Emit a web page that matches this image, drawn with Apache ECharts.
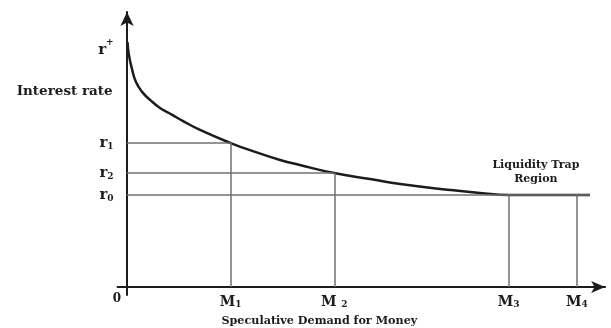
<!DOCTYPE html>
<html>
<head>
<meta charset="utf-8">
<script src="https://cdn.jsdelivr.net/npm/echarts@6/dist/echarts.min.js"></script>
<style>
  html, body { margin: 0; padding: 0; background: #fff; }
  #chart { width: 611px; height: 328px; }
</style>
</head>
<body>
<div id="chart"></div>
<script>
// Speculative demand for money (liquidity preference) curve
const curveMoney = [0.1, 0.4, 1.1, 1.9, 3.2, 4.9, 7.0, 9.6, 11.9, 15.5, 22, 27.2, 32.5, 36.7, 44, 51.6, 58, 68.6, 74.9, 81, 89.8, 98.3];
const curveRate  = [91.4, 86.6, 81.0, 76.5, 72.8, 69.8, 66.8, 64.2, 61.9, 58.6, 53.7, 50.4, 47.4, 45.5, 42.5, 40.3, 38.4, 36.2, 35.1, 34.3, 34.3, 34.3];

// Interest-rate levels: r+, r1, r2, r0
const rateNames  = ['r+', 'r1', 'r2', 'r0'];
const rateValues = [89.2, 53.7, 42.5, 34.3];
const rateAxisTitle = 'Interest rate';
const rateAxisTitleAt = 72.8;

// Money quantities: M1..M4
const moneyNames  = ['M1', 'M 2', 'M3', 'M4'];
const moneyValues = [22, 44, 81, 95.5];
const trapEnd = 98.3;

const INK = '#1c1c1c';
const GUIDE = '#707070';
const SERIF = '"DejaVu Serif", "Liberation Serif", serif';

const r1 = rateValues[1], r2 = rateValues[2], r0 = rateValues[3];
const M1 = moneyValues[0], M2 = moneyValues[1], M3 = moneyValues[2], M4 = moneyValues[3];

function splitSub(name) {
  // "r1" -> base "r", sub "1"; "M 2" -> base "M ", sub "2"
  return { base: name.slice(0, -1), sub: name.slice(-1) };
}

const chart = echarts.init(document.getElementById('chart'), null, { renderer: 'canvas' });

chart.setOption({
  backgroundColor: '#fff',
  animation: false,
  grid: { left: 117.6, top: 12, width: 487.5, height: 283, containLabel: false, outerBoundsMode: 'none' },
  xAxis: {
    type: 'value', min: -2, max: 101.5,
    splitLine: { show: false },
    axisTick: { show: false },
    axisLine: { onZero: true, lineStyle: { color: INK, width: 2 }, symbol: ['none', 'arrow'], symbolSize: [9, 14] },
    axisLabel: {
      customValues: [0].concat(moneyValues),
      margin: -2,
      fontFamily: SERIF, fontWeight: 'bold', color: INK,
      formatter: function (v) {
        if (v === 0) return '{o|0}';
        const i = moneyValues.indexOf(v);
        if (i < 0) return '';
        const p = splitSub(moneyNames[i]);
        return '{m|' + p.base + '}{s|' + p.sub + '}';
      },
      rich: {
        o: { fontFamily: SERIF, fontWeight: 'bold', fontSize: 12, color: INK, padding: [0, 20, 1, 0] },
        m: { fontFamily: SERIF, fontWeight: 'bold', fontSize: 14, color: INK, verticalAlign: 'bottom', lineHeight: 16 },
        s: { fontFamily: SERIF, fontWeight: 'bold', fontSize: 9, color: INK, verticalAlign: 'bottom', lineHeight: 13 }
      }
    },
    name: 'Speculative Demand for Money',
    nameLocation: 'middle',
    nameGap: 21,
    nameMoveOverlap: false,
    nameTextStyle: { fontFamily: SERIF, fontWeight: 'bold', fontSize: 11.2, color: INK, padding: [0, 84, 0, 0] }
  },
  yAxis: {
    type: 'value', min: -3, max: 102.6,
    splitLine: { show: false },
    axisTick: { show: false },
    axisLine: { onZero: true, lineStyle: { color: INK, width: 2 }, symbol: ['none', 'arrow'], symbolSize: [10, 14] },
    axisLabel: {
      customValues: rateValues.concat([rateAxisTitleAt]),
      margin: 4,
      fontFamily: SERIF, fontWeight: 'bold', color: INK,
      formatter: function (v) {
        if (v === rateAxisTitleAt) return '{t|' + rateAxisTitle + '}';
        const i = rateValues.indexOf(v);
        if (i < 0) return '';
        const p = splitSub(rateNames[i]);
        if (p.sub === '+') return '{r|' + p.base + '}{sup|' + p.sub + '}';
        return '{r|' + p.base + '}{s|' + p.sub + '}';
      },
      rich: {
        t: { fontFamily: SERIF, fontWeight: 'bold', fontSize: 13.5, color: INK, padding: [0, 1, 0, 0] },
        r: { fontFamily: SERIF, fontWeight: 'bold', fontSize: 15, color: INK, verticalAlign: 'bottom', lineHeight: 16 },
        s: { fontFamily: SERIF, fontWeight: 'bold', fontSize: 9, color: INK, verticalAlign: 'bottom', lineHeight: 11 },
        sup: { fontFamily: SERIF, fontWeight: 'bold', fontSize: 9, color: INK, verticalAlign: 'top', lineHeight: 20 }
      }
    }
  },
  series: [
    {
      name: 'guides',
      type: 'line',
      data: [],
      silent: true,
      z: 2,
      markLine: {
        silent: true,
        symbol: ['none', 'none'],
        label: { show: false },
        lineStyle: { color: GUIDE, width: 1.5, type: 'solid' },
        emphasis: { disabled: true },
        data: [
          [{ coord: [0, r1] }, { coord: [M1, r1] }],
          [{ coord: [M1, 0] }, { coord: [M1, r1] }],
          [{ coord: [0, r2] }, { coord: [M2, r2] }],
          [{ coord: [M2, 0] }, { coord: [M2, r2] }],
          [{ coord: [0, r0] }, { coord: [trapEnd, r0] }],
          [{ coord: [M3, 0] }, { coord: [M3, r0] }],
          [{ coord: [M4, 0] }, { coord: [M4, r0] }]
        ]
      },
      markPoint: {
        silent: true,
        symbol: 'circle',
        symbolSize: 0,
        label: {
          show: true,
          position: 'inside',
          formatter: 'Liquidity Trap\nRegion',
          fontFamily: SERIF, fontWeight: 'bold', fontSize: 11, lineHeight: 14, color: INK, align: 'center'
        },
        data: [{ coord: [86.8, 42.9] }]
      }
    },
    {
      name: 'Speculative demand',
      type: 'line',
      smooth: 0.5,
      showSymbol: false,
      z: 3,
      lineStyle: { color: INK, width: 2.5 },
      data: curveMoney.map(function (m, i) { return [m, curveRate[i]]; })
    }
  ]
});
</script>
</body>
</html>
